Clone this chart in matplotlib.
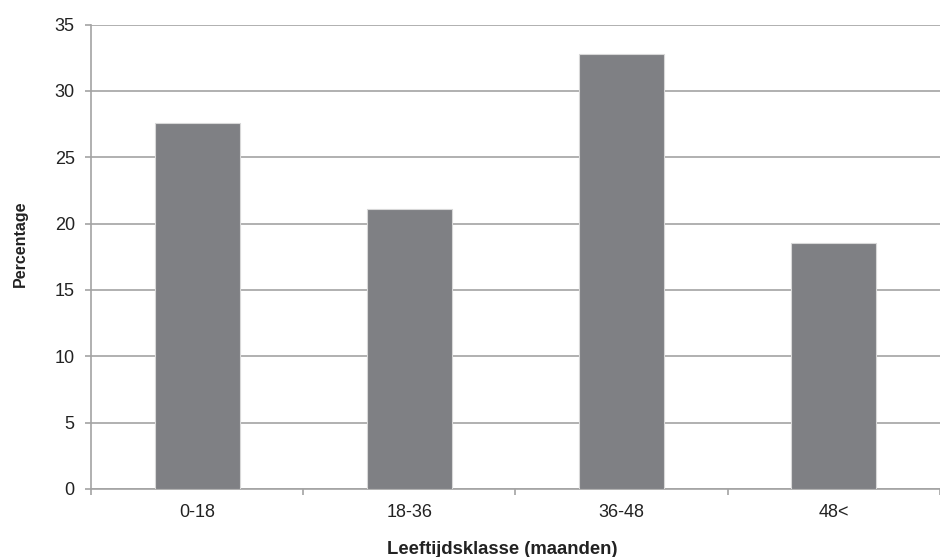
import matplotlib
matplotlib.use("Agg")
import matplotlib.pyplot as plt

categories = ["0-18", "18-36", "36-48", "48<"]
percentages = [27.6, 21.1, 32.8, 18.5]
yticks = [0, 5, 10, 15, 20, 25, 30, 35]

plt.rcParams['font.family'] = ['Liberation Sans', 'DejaVu Sans']

fig = plt.figure(figsize=(9.4, 5.57), dpi=100)
ax = fig.add_axes([0.0973, 0.1221, 0.9022, 0.8339])

grid_col = "#a3a3a3"
text_col = "#222222"
x = range(len(categories))
ax.bar(x, percentages, width=0.404, color="#7f8084", edgecolor="#d8d8d8",
       linewidth=0.8, zorder=3)

ax.set_xlim(-0.5, len(categories) - 0.5)
ax.set_ylim(0, 35)
ax.set_yticks(yticks)
ax.set_yticklabels([str(v) for v in yticks], fontsize=13, color=text_col)
ax.yaxis.grid(True, color=grid_col, linewidth=1.2, zorder=0)

# category labels centred, tick marks between categories
ax.set_xticks(list(x))
ax.set_xticklabels(categories, fontsize=13, color=text_col)
ax.tick_params(axis='x', length=0, pad=11)
ax.set_xticks([i - 0.5 for i in range(len(categories) + 1)], minor=True)
ax.tick_params(axis='x', which='minor', length=4, color=grid_col, width=1.2)
ax.tick_params(axis='y', length=4, color=grid_col, width=1.2, pad=8)

for side in ["top", "right"]:
    ax.spines[side].set_visible(False)
for side in ["left", "bottom"]:
    ax.spines[side].set_color(grid_col)
    ax.spines[side].set_linewidth(1.2)

ax.set_xlabel("Leeftijdsklasse (maanden)", fontsize=13.3, fontweight="bold",
              color=text_col)
ax.xaxis.set_label_coords(0.484, -0.112)
ax.set_ylabel("Percentage", fontsize=11.5, fontweight="bold", color=text_col)
ax.yaxis.set_label_coords(-0.0748, 0.527)

fig.savefig("out.png", dpi=100, facecolor="white")
